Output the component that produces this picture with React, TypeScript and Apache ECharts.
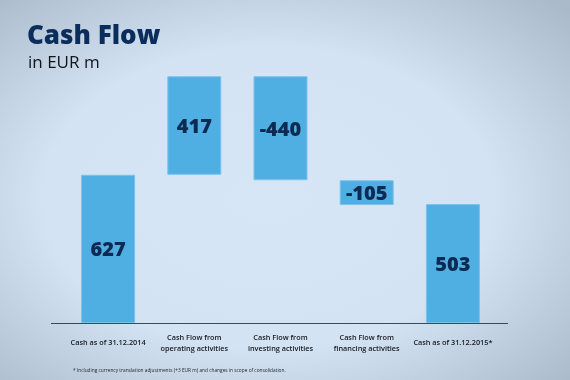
import React, { useEffect, useRef } from "react";
import * as echarts from "echarts";

const categories = [
  "Cash as of 31.12.2014",
  "Cash Flow from\noperating activities",
  "Cash Flow from\ninvesting activities",
  "Cash Flow from\nfinancing activities",
  "Cash as of 31.12.2015*",
];
const changes = [627, 417, -440, -105, 503];
const isTotal = [true, false, false, false, true];
const titleText = "Cash Flow";
const subtitleText = "in EUR m";
const footnoteText =
  "* Including currency translation adjustments (+3 EUR m) and changes in scope of consolidation.";

function buildWaterfall() {
  const base: number[] = [];
  const height: number[] = [];
  let running = 0;
  changes.forEach((v, i) => {
    if (isTotal[i]) {
      base.push(0);
      height.push(v);
      running = v;
    } else if (v >= 0) {
      base.push(running);
      height.push(v);
      running += v;
    } else {
      running += v;
      base.push(running);
      height.push(-v);
    }
  });
  return { base, height };
}

export default function App() {
  const ref = useRef<HTMLDivElement>(null);
  useEffect(() => {
    if (!ref.current) return;
    const chart = echarts.init(ref.current, null, { renderer: "svg" });
    const { base, height } = buildWaterfall();
    const font = "'Open Sans', 'Noto Sans', sans-serif";
    chart.setOption({
      animation: false,
      backgroundColor: {
        type: "radial",
        x: 0.47,
        y: 0.52,
        r: 0.72,
        colorStops: [
          { offset: 0, color: "#d7e6f6" },
          { offset: 0.55, color: "#d3e3f4" },
          { offset: 1, color: "#abbacb" },
        ],
      },
      textStyle: { fontFamily: font },
      grid: { left: 65, right: 74, top: 63, bottom: 57 },
      xAxis: {
        type: "category",
        data: categories,
        axisLine: { show: false },
        axisTick: { show: false },
        axisLabel: {
          interval: 0,
          margin: 19,
          verticalAlign: "middle",
          fontSize: 7.3,
          fontWeight: 600,
          lineHeight: 11,
          color: "#15191f",
          fontFamily: font,
        },
      },
      yAxis: {
        type: "value",
        min: 0,
        max: 1100,
        show: false,
        splitLine: { show: false },
      },
      series: [
        {
          type: "bar",
          stack: "wf",
          data: base,
          barWidth: 54,
          itemStyle: { color: "transparent" },
          silent: true,
        },
        {
          type: "bar",
          stack: "wf",
          data: height,
          barWidth: 54,
          itemStyle: { color: "#4fafe3", borderColor: "#78c3ee", borderWidth: 1 },
          label: {
            show: true,
            position: "inside",
            fontSize: 20,
            fontWeight: 800,
            color: "#0c2a52",
            fontFamily: font,
            formatter: (p: any) => String(changes[p.dataIndex]),
          },
        },
      ],
      graphic: [
        {
          type: "text",
          left: 27,
          top: 21,
          style: {
            text: titleText,
            fontSize: 26,
            fontWeight: 800,
            fill: "#0b2d5c",
            fontFamily: font,
          },
        },
        {
          type: "text",
          left: 28,
          top: 53,
          style: {
            text: subtitleText,
            fontSize: 17,
            fill: "#111418",
            fontFamily: font,
          },
        },
        {
          type: "line",
          shape: { x1: 51, y1: 323.5, x2: 508, y2: 323.5 },
          style: { stroke: "#3e4854", lineWidth: 1.2 },
        },
        {
          type: "text",
          left: 73,
          top: 367,
          style: {
            text: footnoteText,
            fontSize: 4.8,
            fill: "#1c2028",
            fontFamily: font,
          },
        },
      ],
    });
    return () => chart.dispose();
  }, []);
  return (
    <div
      ref={ref}
      style={{ position: "fixed", left: 0, top: 0, width: 570, height: 380 }}
    />
  );
}
